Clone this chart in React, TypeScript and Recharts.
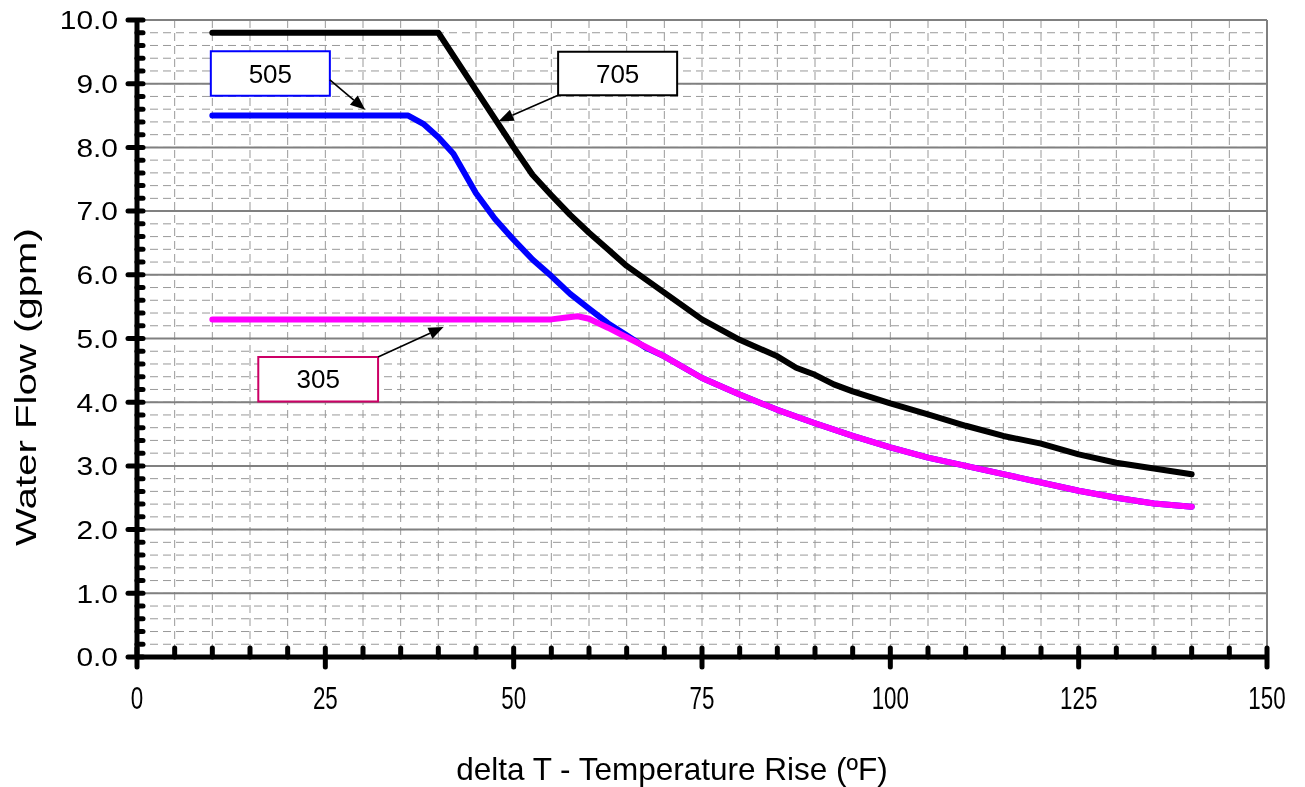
import {
    LineChart,
    Line,
    XAxis,
    YAxis,
    CartesianGrid,
    ReferenceArea,
    ReferenceLine,
} from 'recharts';

// delta T (ºF) / water flow (gpm)
const deltaT705 = [10, 40, 45, 50, 52.5, 55, 57.5, 60, 62.5, 65, 70, 75, 80, 85, 87.5, 90, 92.5, 95, 100, 105, 110, 115, 120, 125, 130, 135, 140];
const flow705 = [9.8, 9.8, 8.9, 8.0, 7.57, 7.25, 6.94, 6.66, 6.4, 6.14, 5.72, 5.3, 4.98, 4.72, 4.54, 4.43, 4.28, 4.17, 3.98, 3.81, 3.63, 3.47, 3.35, 3.18, 3.05, 2.96, 2.87];

const deltaT505 = [10, 36, 38, 40, 42, 45, 47.5, 50, 52.5, 55, 57.5, 60, 62.5, 65, 67.5, 70, 75, 80, 85, 90, 95, 100, 105, 110, 115, 120, 125, 130, 135, 140];
const flow505 = [8.5, 8.5, 8.37, 8.16, 7.9, 7.28, 6.88, 6.55, 6.24, 5.98, 5.7, 5.47, 5.24, 5.05, 4.86, 4.72, 4.38, 4.12, 3.88, 3.67, 3.47, 3.29, 3.13, 3.0, 2.87, 2.74, 2.61, 2.5, 2.41, 2.36];

const deltaT305 = [10, 55, 57, 58.5, 60, 62.5, 65, 67.5, 70, 75, 80, 85, 90, 95, 100, 105, 110, 115, 120, 125, 130, 135, 140];
const flow305 = [5.3, 5.3, 5.33, 5.35, 5.31, 5.17, 5.02, 4.87, 4.72, 4.38, 4.12, 3.88, 3.67, 3.47, 3.29, 3.13, 3.0, 2.87, 2.74, 2.61, 2.5, 2.41, 2.36];

// axis ticks
const xTicks = Array.from({ length: 31 }, (_, i) => i * 5);
const yTicks = Array.from({ length: 51 }, (_, i) => +(i * 0.2).toFixed(1));
const xMajor = [0, 25, 50, 75, 100, 125, 150];
const yMajor = [0, 1, 2, 3, 4, 5, 6, 7, 8, 9, 10];

// callout boxes and arrows, in data units
const calloutNames = ['505', '705', '305'];
const calloutColors = ['#0000ff', '#000000', '#cc0066'];
const calloutX = [[9.8, 25.6], [55.9, 71.7], [16.1, 32.0]];
const calloutY = [[8.81, 9.51], [8.82, 9.5], [4.01, 4.71]];
const arrowFrom = [{ x: 25.6, y: 9.06 }, { x: 55.9, y: 8.82 }, { x: 32.0, y: 4.71 }];
const arrowTo = [{ x: 30.3, y: 8.59 }, { x: 48.0, y: 8.41 }, { x: 40.7, y: 5.18 }];

const toPoints = (xs: number[], ys: number[]) => xs.map((x, i) => ({ x, y: ys[i] }));
const data705 = toPoints(deltaT705, flow705);
const data505 = toPoints(deltaT505, flow505);
const data305 = toPoints(deltaT305, flow305);

const font = '"Liberation Sans", Arial, sans-serif';

const YTick = (props: any) => {
    const { x, y, payload } = props;
    const v = payload.value;
    const major = Math.abs(v - Math.round(v)) < 1e-6;
    return (
        <g>
            <line x1={major ? x - 9 : x} x2={x + 6} y1={y} y2={y} stroke="#000" strokeWidth={5} strokeLinecap="round" />
            {major && (
                <text
                    transform={`translate(${x - 19},${y}) scale(1.15,1)`}
                    textAnchor="end"
                    dy="0.36em"
                    fontSize={26}
                    fontFamily={font}
                    fill="#000"
                >
                    {v.toFixed(1)}
                </text>
            )}
        </g>
    );
};

const XTick = (props: any) => {
    const { x, y, payload } = props;
    const v = payload.value;
    const major = v % 25 === 0;
    return (
        <g>
            <line x1={x} x2={x} y1={major ? y + 10 : y} y2={y - 9} stroke="#000" strokeWidth={5} strokeLinecap="round" />
            {major && (
                <text
                    transform={`translate(${x},${y + 52}) scale(0.7,1)`}
                    textAnchor="middle"
                    fontSize={32}
                    fontFamily={font}
                    fill="#000"
                >
                    {v}
                </text>
            )}
        </g>
    );
};

const Arrow = (props: any) => {
    const { x1, y1, x2, y2 } = props;
    const a = Math.atan2(y2 - y1, x2 - x1);
    const len = 15;
    const w = 6;
    const bx = x2 - len * Math.cos(a);
    const by = y2 - len * Math.sin(a);
    const p1 = `${bx + w * Math.sin(a)},${by - w * Math.cos(a)}`;
    const p2 = `${bx - w * Math.sin(a)},${by + w * Math.cos(a)}`;
    return (
        <g>
            <line x1={x1} y1={y1} x2={bx} y2={by} stroke="#000" strokeWidth={1.6} />
            <polygon points={`${x2},${y2} ${p1} ${p2}`} fill="#000" />
        </g>
    );
};

export default function App() {
    return (
        <div style={{ position: 'fixed', left: 0, top: 0 }}>
            <LineChart width={1305} height={787} margin={{ top: 20, right: 38, bottom: 0, left: 0 }} style={{ fontFamily: font }}>
                <CartesianGrid stroke="#999999" strokeWidth={1} strokeDasharray="8 5" />
                <CartesianGrid xAxisId="major" yAxisId="major" stroke="#808080" strokeWidth={2} />
                <XAxis
                    type="number"
                    dataKey="x"
                    domain={[0, 150]}
                    ticks={xTicks}
                    interval={0}
                    height={130}
                    tickSize={0}
                    tickMargin={0}
                    tick={<XTick />}
                    axisLine={{ stroke: '#000', strokeWidth: 5 }}
                />
                <YAxis
                    type="number"
                    domain={[0, 10]}
                    ticks={yTicks}
                    interval={0}
                    width={137}
                    tickSize={0}
                    tickMargin={0}
                    tick={<YTick />}
                    axisLine={{ stroke: '#000', strokeWidth: 5 }}
                />
                <XAxis xAxisId="major" type="number" domain={[0, 150]} ticks={xMajor} allowDataOverflow hide />
                <YAxis yAxisId="major" type="number" domain={[0, 10]} ticks={yMajor} allowDataOverflow hide />
                {calloutNames.map((name, i) => (
                    <ReferenceArea
                        key={`box-${name}`}
                        x1={calloutX[i][0]}
                        x2={calloutX[i][1]}
                        y1={calloutY[i][0]}
                        y2={calloutY[i][1]}
                        fill="#ffffff"
                        fillOpacity={1}
                        stroke={calloutColors[i]}
                        strokeWidth={2}
                        label={{ value: name, position: 'center', fontSize: 26, fill: '#000', fontFamily: font }}
                    />
                ))}
                {calloutNames.map((name, i) => (
                    <ReferenceLine key={`arrow-${name}`} segment={[arrowFrom[i], arrowTo[i]]} shape={Arrow} />
                ))}
                <Line data={data705} dataKey="y" type="linear" stroke="#000000" strokeWidth={6} strokeLinecap="round" strokeLinejoin="round" dot={false} isAnimationActive={false} />
                <Line data={data505} dataKey="y" type="linear" stroke="#0000ff" strokeWidth={6} strokeLinecap="round" strokeLinejoin="round" dot={false} isAnimationActive={false} />
                <Line data={data305} dataKey="y" type="linear" stroke="#ff00ff" strokeWidth={6} strokeLinecap="round" strokeLinejoin="round" dot={false} isAnimationActive={false} />
                <text transform="translate(25,387) rotate(-90) scale(1.34,1)" textAnchor="middle" dy="0.35em" fontSize={30} fontFamily={font} fill="#000">
                    Water Flow (gpm)
                </text>
                <text x={672} y={780} textAnchor="middle" fontSize={31.5} fontFamily={font} fill="#000">
                    delta T - Temperature Rise (ºF)
                </text>
            </LineChart>
        </div>
    );
}
